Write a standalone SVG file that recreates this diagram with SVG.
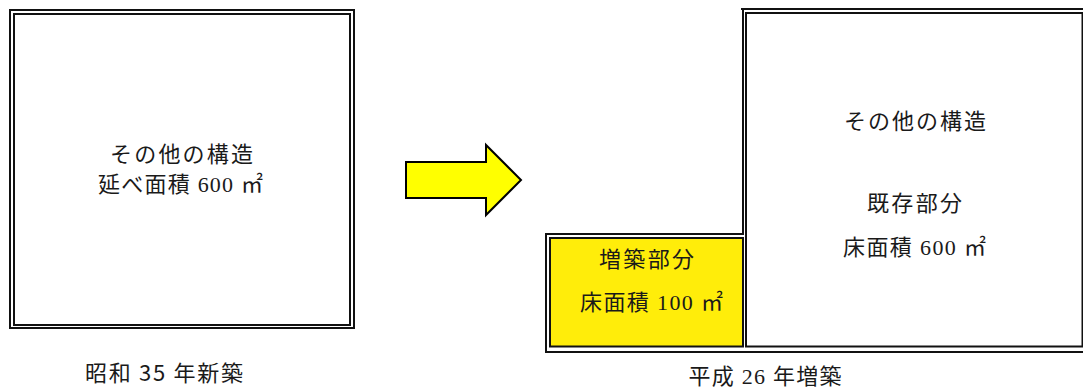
<svg xmlns="http://www.w3.org/2000/svg" width="1083" height="389" viewBox="0 0 1083 389">
<style>
.ln{fill:none;stroke:#111;stroke-width:2}
.serif{font-family:"Liberation Serif","Noto Sans CJK JP",serif;font-size:22px;fill:#1a1a1a;text-anchor:middle}
.sans{font-family:"Noto Sans CJK JP","Noto Sans",sans-serif;font-size:22px;fill:#1a1a1a;text-anchor:middle}
</style>
<rect width="1083" height="389" fill="#fff"/>
<g id="old-building">
<rect class="ln" x="10" y="10" width="344" height="318"/>
<rect class="ln" x="14" y="14" width="336" height="311"/>
<text class="serif" x="181.5" y="162" textLength="143" lengthAdjust="spacing">その他の構造</text>
<text class="serif" x="180.5" y="192" textLength="165" lengthAdjust="spacing">延べ面積 600 ㎡</text>
</g>
<g id="label-old">
<text class="sans" x="164" y="381" textLength="158" lengthAdjust="spacing">昭和 35 年新築</text>
</g>
<g id="connectors">
<polygon points="406,162 486,162 486,145 521,180 486,215 486,198 406,198" fill="#ffff00" stroke="#000" stroke-width="2" stroke-linejoin="miter"/>
</g>
<g id="outline-new">
<path class="ln" d="M546,352 V234 H743 V9 H1095 V352 Z"/>
<line x1="741" y1="9" x2="744" y2="9" stroke="#111" stroke-width="2"/>
</g>
<g id="existing-part">
<rect class="ln" x="746" y="13" width="336.5" height="333.5"/>
<text class="serif" x="915" y="129" textLength="142" lengthAdjust="spacing">その他の構造</text>
<text class="serif" x="914.5" y="211" textLength="95" lengthAdjust="spacing">既存部分</text>
<text class="serif" x="914.5" y="255" textLength="143" lengthAdjust="spacing">床面積 600 ㎡</text>
</g>
<g id="extension-part">
<rect x="550" y="238" width="193" height="108.5" fill="#ffed0a" stroke="#111" stroke-width="2"/>
<text class="serif" x="646.5" y="267" textLength="95" lengthAdjust="spacing">増築部分</text>
<text class="serif" x="651.5" y="310" textLength="143" lengthAdjust="spacing">床面積 100 ㎡</text>
</g>
<g id="label-new">
<text class="serif" x="765" y="384" textLength="153" lengthAdjust="spacing">平成 26 年増築</text>
</g>
</svg>
